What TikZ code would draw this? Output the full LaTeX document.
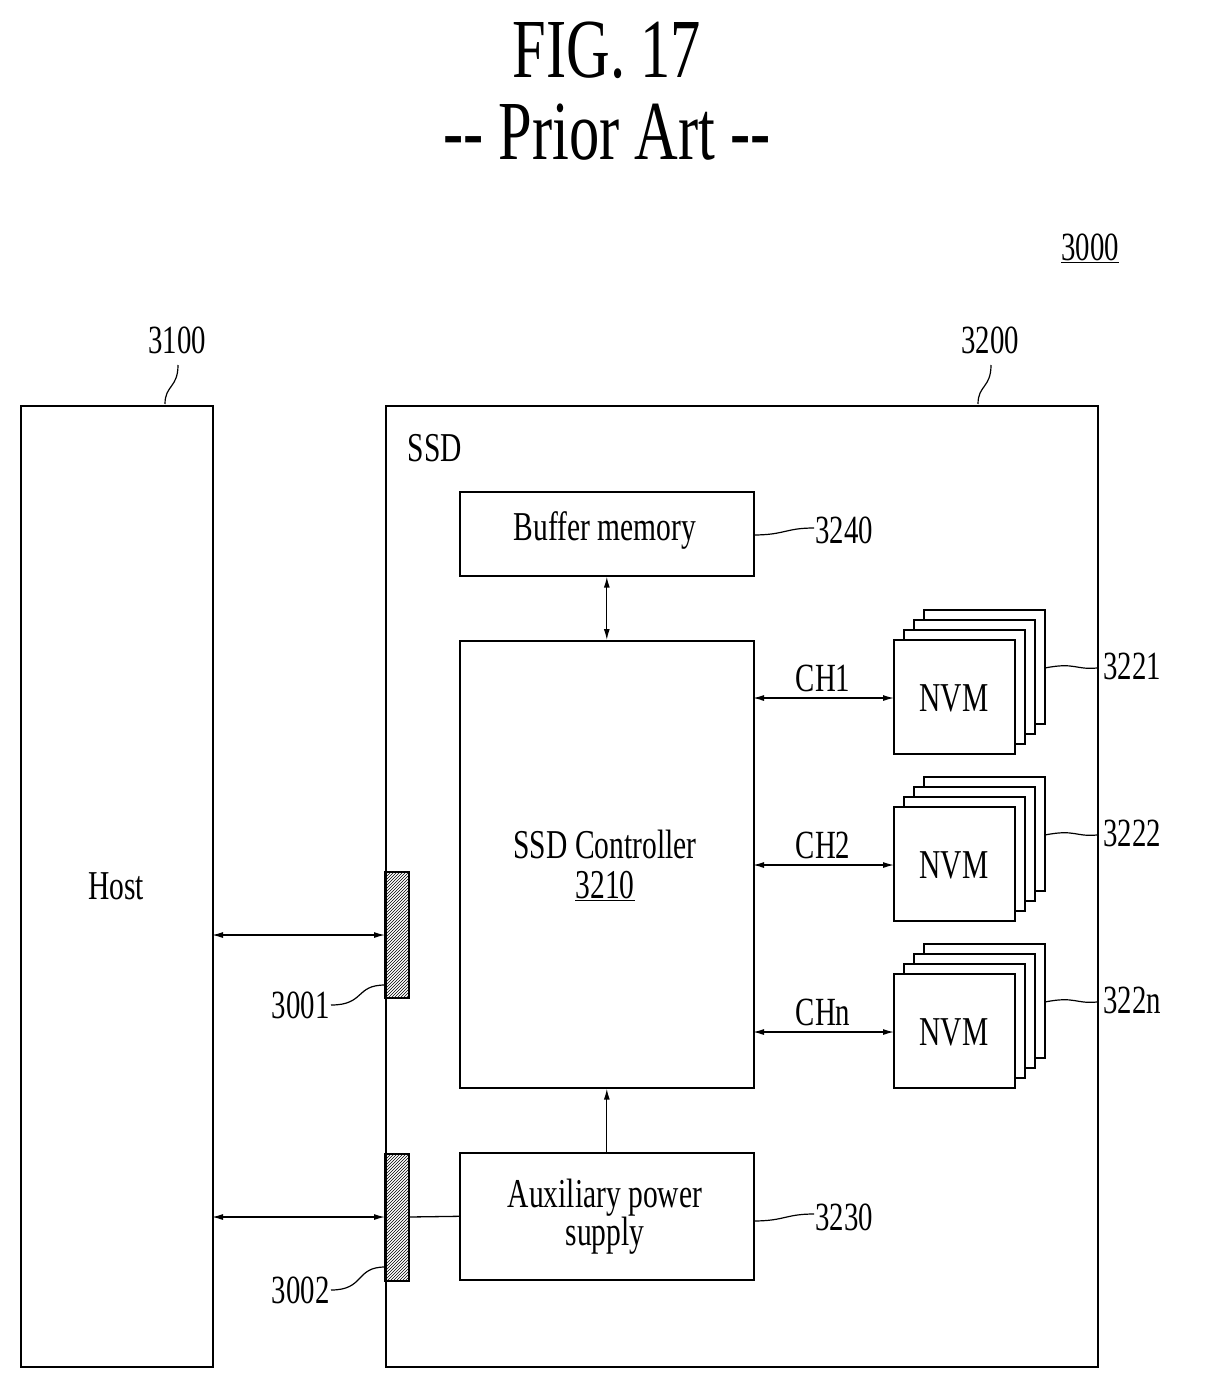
\documentclass[tikz,border=0pt]{standalone}
\usepackage{fontspec}
\setmainfont{Liberation Serif}[FakeStretch=0.72]
\usetikzlibrary{patterns,arrows.meta}
\begin{document}
\begin{tikzpicture}[x=1pt,y=-1pt,
  box/.style={draw,line width=1.6pt},
  lbl/.style={font=\fontsize{40}{42}\selectfont},
  txt/.style={font=\fontsize{41}{46}\selectfont,align=center},
  ar/.style={line width=1.3pt,{Latex[length=11pt,width=6pt]}-{Latex[length=11pt,width=6pt]}},
  sq/.style={line width=1.2pt},
  hatch/.style={draw,line width=1.4pt,pattern=north east lines}]
\useasboundingbox (0,0) rectangle (1212,1389);
\node (t1) at (607,50) {\fontsize{84}{88}\selectfont FIG. 17};
\node (t2) at (607,132) {\fontsize{84}{88}\selectfont -{}- Prior Art -{}-};
\node[lbl] (l3000) at (1090,248) {\underline{3000}};
% Host
\node[box,minimum width=192pt,minimum height=961pt,anchor=north west] (host) at (20,405) {};
\node[txt] at (116,886) {Host};
\node[lbl] (l3100) at (177,340) {3100};
\draw[sq] (165,404) .. controls (165,385) and (178,388) .. (178,365);
% SSD
\node[box,minimum width=712pt,minimum height=961pt,anchor=north west] (ssd) at (385,405) {};
\node[txt] at (435,448) {SSD};
\node[lbl] (l3200) at (990,340) {3200};
\draw[sq] (978,404) .. controls (978,385) and (991,388) .. (991,365);
% boxes
\node[box,minimum width=294pt,minimum height=84pt,anchor=north west] (buf) at (459,491) {};
\node[txt] at (605,530) {Buffer memory};
\node[box,minimum width=294pt,minimum height=447pt,anchor=north west] (ctl) at (459,640) {};
\node[txt] at (605,865) {SSD Controller\\[-6pt]\underline{3210}};
\node[box,minimum width=294pt,minimum height=127pt,anchor=north west] (aux) at (459,1152) {};
\node[txt] at (605,1217) {Auxiliary power\\[-8pt]supply};
\draw[ar] (buf.south) -- (ctl.north);
\draw[line width=1.3pt,-{Latex[length=11pt,width=6pt]}] (aux.north) -- (ctl.south);
\node[lbl,anchor=west] (l3240) at (812,530) {3240};
\draw[sq] (753,535) .. controls (785,535) and (785,528) .. (814,528);
\node[lbl,anchor=west] (l3230) at (812,1217) {3230};
\draw[sq] (753,1221) .. controls (785,1221) and (785,1214) .. (814,1214);
% connectors
\filldraw[hatch] (385,872) rectangle (409,998);
\filldraw[hatch] (385,1154) rectangle (409,1281);
\draw[ar] (212,935) -- (385,935);
\draw[ar] (212,1217) -- (385,1217);
\draw[line width=1.3pt] (409,1217) -- (aux.west);
\node[lbl,anchor=east] (l3001) at (333,1005) {3001};
\draw[sq] (331,1005) .. controls (365,1005) and (355,985) .. (385,985);
\node[lbl,anchor=east] (l3002) at (333,1290) {3002};
\draw[sq] (331,1290) .. controls (365,1290) and (355,1267) .. (385,1267);
% NVMs
\foreach \y/\ch/\lab in {640/CH1/3221, 807/CH2/3222, 974/CHn/322n}{
  \foreach \k in {3,2,1}{
    \filldraw[fill=white,line width=1.5pt] (894+10*\k,\y-10*\k) rectangle (1015+10*\k,\y+114-10*\k);
  }
  \filldraw[fill=white,line width=1.6pt] (894,\y) rectangle (1015,\y+114);
  \node[txt] at (954,\y+58) {NVM};
  \draw[ar] (753,\y+58) -- (894,\y+58);
  \node[lbl] at (823,\y+38) {\ch};
  \draw[sq] (1045,\y+28) .. controls (1075,\y+22) and (1075,\y+30) .. (1097,\y+28);
  \node[lbl,anchor=west] at (1100,\y+26) {\lab};
}
\end{tikzpicture}
\end{document}
